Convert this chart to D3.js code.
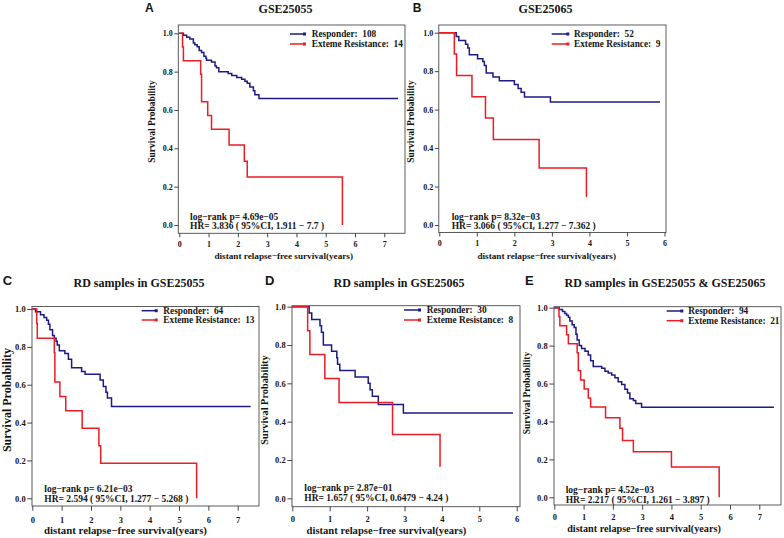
<!DOCTYPE html>
<html>
<head>
<meta charset="utf-8">
<script src="https://cdn.jsdelivr.net/npm/d3@7"></script>
<style>
body{margin:0;background:#fff;}
svg text{font-family:"Liberation Serif","Times New Roman",serif;font-weight:bold;fill:#151515;}
</style>
</head>
<body>
<div id="chart"></div>
<script>
// tick labels
const yearTicks7 = [0, 1, 2, 3, 4, 5, 6, 7];
const yearTicks6 = [0, 1, 2, 3, 4, 5, 6];
const survTicks = [0, 0.2, 0.4, 0.6, 0.8, 1.0];

// panel texts
const panelLetters = ["A", "B", "C", "D", "E"];
const panelTitles = ["GSE25055", "GSE25065", "RD samples in GSE25055", "RD samples in GSE25065", "RD samples in GSE25055 & GSE25065"];
const responderN = [108, 52, 64, 30, 94];
const resistanceN = [14, 9, 13, 8, 21];
const logrankP = ["4.69e\u221205", "8.32e\u221203", "6.21e\u221203", "2.87e\u221201", "4.52e\u221203"];
const hazardRatio = ["3.836", "3.066", "2.594", "1.657", "2.217"];
const ciLow = ["1.911", "1.277", "1.277", "0.6479", "1.261"];
const ciHigh = ["7.7", "7.362", "5.268", "4.24", "3.897"];

// KM curves: [time (years), survival from that time on]
const respA = [[0,1],[0.14,0.99],[0.25,0.98],[0.36,0.97],[0.48,0.95],[0.53,0.94],[0.61,0.93],[0.68,0.91],[0.76,0.90],[0.84,0.88],[0.91,0.87],[0.93,0.86],[1.10,0.85],[1.22,0.83],[1.27,0.82],[1.35,0.80],[1.67,0.79],[1.79,0.78],[1.96,0.77],[2.13,0.76],[2.24,0.75],[2.32,0.74],[2.41,0.72],[2.53,0.70],[2.58,0.68],[2.72,0.66],[7.47,0.66]];
const resA = [[0,1],[0.11,0.929],[0.14,0.857],[0.73,0.786],[0.76,0.643],[0.97,0.571],[1.10,0.50],[1.70,0.417],[2.22,0.333],[2.32,0.25],[5.57,0]];

const respB = [[0,1],[0.45,0.98],[0.52,0.96],[0.70,0.94],[0.76,0.92],[0.80,0.885],[1.02,0.865],[1.16,0.85],[1.20,0.83],[1.25,0.79],[1.43,0.77],[1.60,0.75],[2.00,0.73],[2.10,0.71],[2.18,0.69],[2.27,0.665],[2.96,0.64],[5.88,0.64]];
const resB = [[0,1],[0.40,0.889],[0.46,0.778],[0.87,0.667],[1.23,0.556],[1.44,0.444],[2.66,0.296],[3.92,0.148],[3.93,0.148]];

const respC = [[0,1],[0.11,0.985],[0.28,0.97],[0.40,0.955],[0.49,0.94],[0.55,0.92],[0.60,0.89],[0.69,0.86],[0.75,0.845],[0.81,0.83],[0.85,0.81],[0.92,0.78],[1.11,0.765],[1.23,0.735],[1.34,0.69],[1.68,0.67],[1.80,0.655],[2.31,0.625],[2.42,0.59],[2.51,0.56],[2.56,0.53],[2.70,0.485],[7.44,0.485]];
const resC = [[0,1],[0.15,0.923],[0.17,0.846],[0.75,0.769],[0.77,0.615],[0.94,0.538],[1.14,0.462],[1.70,0.37],[2.27,0.277],[2.33,0.185],[5.60,0]];

const respD = [[0,1],[0.45,0.967],[0.52,0.933],[0.74,0.90],[0.78,0.867],[0.83,0.80],[1.05,0.767],[1.19,0.733],[1.21,0.70],[1.27,0.667],[1.68,0.633],[2.03,0.60],[2.08,0.567],[2.14,0.533],[2.30,0.49],[2.97,0.445],[5.90,0.445]];
const resD = [[0,1],[0.41,0.875],[0.47,0.75],[0.87,0.625],[1.25,0.50],[2.68,0.333],[3.95,0.167],[3.96,0.167]];

const respE = [[0,1],[0.17,0.99],[0.28,0.98],[0.36,0.97],[0.42,0.96],[0.48,0.95],[0.53,0.93],[0.61,0.91],[0.68,0.895],[0.74,0.86],[0.78,0.83],[0.85,0.80],[0.93,0.785],[1.05,0.77],[1.16,0.75],[1.24,0.72],[1.33,0.69],[1.62,0.68],[1.73,0.665],[1.84,0.655],[1.96,0.645],[2.07,0.63],[2.18,0.61],[2.30,0.595],[2.41,0.57],[2.50,0.55],[2.58,0.52],[2.70,0.51],[2.78,0.495],[2.98,0.475],[7.50,0.475]];
const resE = [[0,1],[0.16,0.952],[0.19,0.905],[0.42,0.857],[0.48,0.81],[0.78,0.762],[0.82,0.667],[0.90,0.619],[1.02,0.571],[1.16,0.524],[1.24,0.476],[1.75,0.42],[2.24,0.364],[2.33,0.30],[2.70,0.24],[4.00,0.16],[5.63,0]];

const responderCurves = [respA, respB, respC, respD, respE];
const resistanceCurves = [resA, resB, resC, resD, resE];

const blue = "#1d1a86";
const red = "#ec1c24";

// where each panel sits (pixels); x0/xt = pixel of first/last year tick, y0/y1 = pixel of 0 and 1
const layout = [
  {L:178.3, T:25, R:405, B:233.3, x0:179.3, xt:384.3, ticks:yearTicks7, y0:225, y1:33.3,
   letter:[145, 11.7, 12], title:[285.6, 12.5], tickFs:8, tickLen:4, xLab:13.7, yPad:1.5,
   xt_c:283.7, xt_y:259, xt_fs:9.2, yt_c:121.5, yt_x:154.5, yt_fs:9.5,
   leg:[290, 305, 311.7], legY:[34, 37, 44, 47], ann:[190, 219.5, 229]},
  {L:438.8, T:25, R:666, B:232.5, x0:439.3, xt:664.5, ticks:yearTicks6, y0:225, y1:32.7,
   letter:[412.7, 11.7, 12], title:[545.6, 12.5], tickFs:8, tickLen:4, xLab:13.7, yPad:1.5,
   xt_c:546.7, xt_y:259, xt_fs:9.2, yt_c:121.5, yt_x:414, yt_fs:9.5,
   leg:[551.7, 568.3, 574], legY:[34, 37, 44, 47], ann:[451.7, 219.5, 229]},
  {L:32, T:306.5, R:259, B:506, x0:32.3, xt:237.7, ticks:yearTicks7, y0:498.3, y1:309,
   letter:[2.7, 285, 13], title:[139, 286.5], tickFs:8.5, tickLen:4.7, xLab:16.5, yPad:1.6,
   xt_c:125.5, xt_y:534, xt_fs:10.8, yt_c:400, yt_x:11, yt_fs:12,
   leg:[141.7, 156.7, 163.3], legY:[310.7, 313.5, 320, 322.8], ann:[44.3, 491.5, 501.5]},
  {L:292, T:305.7, R:520, B:506.7, x0:292.3, xt:516.7, ticks:yearTicks6, y0:498.3, y1:306.7,
   letter:[265, 284.5, 13], title:[399, 286.5], tickFs:8.5, tickLen:4.7, xLab:15.5, yPad:1.6,
   xt_c:386.5, xt_y:533.5, xt_fs:10.6, yt_c:400, yt_x:268, yt_fs:10.3,
   leg:[404, 420, 426.7], legY:[310, 313, 320, 323], ann:[304.3, 490.5, 501]},
  {L:554, T:306.7, R:781, B:505, x0:554.3, xt:759.3, ticks:yearTicks7, y0:497.3, y1:307.7,
   letter:[525, 284.5, 13], title:[665, 287], tickFs:8.5, tickLen:4.7, xLab:15, yPad:1.6,
   xt_c:644, xt_y:531.5, xt_fs:10.2, yt_c:393, yt_x:529.5, yt_fs:9.5,
   leg:[666.7, 682.3, 688.3], legY:[311, 314, 320.7, 323.7], ann:[565.7, 493, 503]}
];

const svg = d3.select("#chart").append("svg").attr("width", 784).attr("height", 538);

layout.forEach((p, i) => {
  const tMax = p.ticks[p.ticks.length - 1];
  const x = d3.scaleLinear().domain([0, tMax]).range([p.x0, p.xt]);
  const y = d3.scaleLinear().domain([0, 1]).range([p.y0, p.y1]);
  const g = svg.append("g");

  // letter + title
  g.append("text").attr("x", p.letter[0]).attr("y", p.letter[1])
    .style("font-family", "'Liberation Sans',Arial,sans-serif").style("font-size", p.letter[2] + "px")
    .text(panelLetters[i]);
  g.append("text").attr("x", p.title[0]).attr("y", p.title[1]).attr("text-anchor", "middle")
    .style("font-size", "12px").text(panelTitles[i]);

  // box
  g.append("rect").attr("x", p.L).attr("y", p.T).attr("width", p.R - p.L).attr("height", p.B - p.T)
    .attr("fill", "none").attr("stroke", "#4a4a4a").attr("stroke-width", 0.9);

  // axes
  const xAxis = d3.axisBottom(x).tickValues(p.ticks).tickFormat(d3.format("d"))
    .tickSize(p.tickLen).tickPadding(p.xLab - p.tickLen - 0.71 * p.tickFs);
  const xg = g.append("g").attr("transform", `translate(0,${p.B})`).call(xAxis);
  const yAxis = d3.axisLeft(y).tickValues(survTicks).tickFormat(d3.format(".1f"))
    .tickSize(p.tickLen).tickPadding(p.yPad);
  const yg = g.append("g").attr("transform", `translate(${p.L},0)`).call(yAxis);
  [xg, yg].forEach(a => {
    a.select(".domain").remove();
    a.selectAll(".tick line").attr("stroke", "#333").attr("stroke-width", 0.9);
    a.selectAll(".tick text").attr("fill", "#151515")
      .style("font-family", "'Liberation Serif','Times New Roman',serif")
      .style("font-weight", "bold").style("font-size", p.tickFs + "px");
  });

  // axis titles
  g.append("text").attr("x", p.xt_c).attr("y", p.xt_y).attr("text-anchor", "middle")
    .style("font-size", p.xt_fs + "px").text("distant relapse\u2212free survival(years)");
  g.append("text").attr("transform", `translate(${p.yt_x},${p.yt_c}) rotate(-90)`)
    .attr("text-anchor", "middle").style("font-size", p.yt_fs + "px").text("Survival Probability");

  // curves
  const line = d3.line().x(d => x(d[0])).y(d => y(d[1])).curve(d3.curveStepAfter);
  g.append("path").datum(responderCurves[i]).attr("d", line)
    .attr("fill", "none").attr("stroke", blue).attr("stroke-width", 1.5);
  g.append("path").datum(resistanceCurves[i]).attr("d", line)
    .attr("fill", "none").attr("stroke", red).attr("stroke-width", 1.5);

  // legend
  const legItems = [
    {c: blue, ly: p.legY[0], ty: p.legY[1], t: "Responder:\u00a0 " + responderN[i]},
    {c: red, ly: p.legY[2], ty: p.legY[3], t: "Exteme Resistance:\u00a0 " + resistanceN[i]}
  ];
  legItems.forEach(it => {
    g.append("line").attr("x1", p.leg[0]).attr("x2", p.leg[1]).attr("y1", it.ly).attr("y2", it.ly)
      .attr("stroke", it.c).attr("stroke-width", 1.5);
    g.append("rect").attr("x", p.leg[1] - 2).attr("y", it.ly - 1.5).attr("width", 3).attr("height", 3)
      .attr("fill", it.c);
    g.append("text").attr("x", p.leg[2]).attr("y", it.ty).style("font-size", "9.3px").text(it.t);
  });

  // statistics
  g.append("text").attr("x", p.ann[0]).attr("y", p.ann[1]).style("font-size", "9.5px")
    .text("log\u2212rank p= " + logrankP[i]);
  g.append("text").attr("x", p.ann[0]).attr("y", p.ann[2]).style("font-size", "9.5px")
    .text("HR= " + hazardRatio[i] + " ( 95%CI, " + ciLow[i] + " \u2212 " + ciHigh[i] + " )");
});
</script>
</body>
</html>
